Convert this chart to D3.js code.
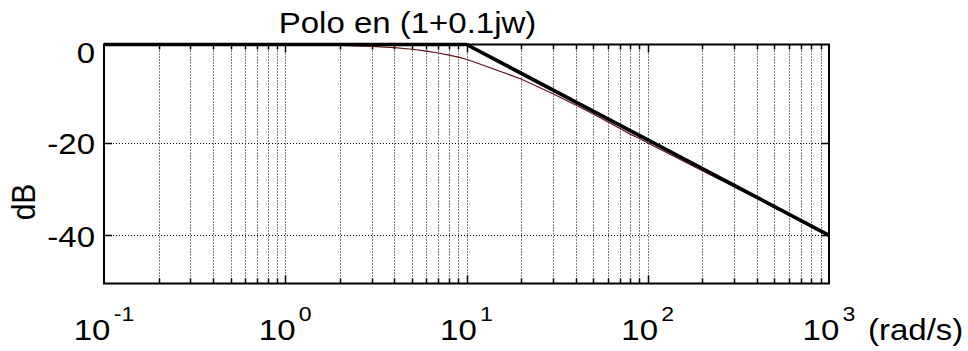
<!DOCTYPE html>
<html>
<head>
<meta charset="utf-8">
<script src="https://cdn.jsdelivr.net/npm/d3@7"></script>
<style>
  html, body { margin: 0; padding: 0; background: #fff; }
  svg { display: block; }
  text { font-family: "Liberation Sans", Arial, sans-serif; fill: #000; }
</style>
</head>
<body>
<svg id="chart" width="968" height="351"></svg>
<script>
// ---- data ----
const titleText = "Polo en (1+0.1jw)";
const yLabel = "dB";
const xUnit = "(rad/s)";
const xTickExps = [-1, 0, 1, 2, 3];
const yTicks = [0, -20, -40];
const yDomain = [-50, 0];

// asymptotic (straight-line) approximation
const asymW = [0.1, 10, 1000];
const asymDb = [0, 0, -40];

// real magnitude curve, sampled
const realW = [0.1,0.2,0.3,0.4,0.5,0.6,0.7,0.8,0.9,
               1,2,3,4,5,6,7,8,9,
               10,20,30,40,50,60,70,80,90,
               100,200,300,400,500,600,700,800,900,1000];
const realDb = [0,0,0,0,0,0,0,0,0,
                -0.04,-0.17,-0.37,-0.64,-0.97,-1.34,-1.73,-2.15,-2.55,
                -3.0,-7.0,-10.0,-12.3,-14.1,-15.7,-17.0,-18.2,-19.1,
                -20.0,-26.0,-29.5,-32.0,-34.0,-35.6,-36.9,-38.1,-39.1,-40.0];

// ---- layout ----
const L = 104, R = 829, T = 44.5, B = 283.5;
const svg = d3.select("#chart");
const sx = 1.1; // horizontal glyph stretch of the reference

const x = d3.scaleLog().domain([0.1, 1000]).range([L, R]);
const y = d3.scaleLinear().domain([-50, -40, -20, 0]).range([B, 235.3, 143, T]);

// grid
const minor = [];
for (let e = -1; e < 3; e++) for (let k = 2; k <= 9; k++) minor.push(k * Math.pow(10, e));
const majorInner = [1, 10, 100];
const gridV = minor.concat(majorInner);

const grid = svg.append("g").attr("stroke", "#000").attr("stroke-width", 1)
  .attr("stroke-dasharray", "1,2").attr("fill", "none");
grid.selectAll("line.v").data(gridV).join("line")
  .attr("x1", d => Math.round(x(d)) + 0.5).attr("x2", d => Math.round(x(d)) + 0.5)
  .attr("y1", T).attr("y2", B);
grid.selectAll("line.h").data([-20, -40]).join("line")
  .attr("x1", L).attr("x2", R)
  .attr("y1", d => Math.round(y(d)) + 0.5).attr("y2", d => Math.round(y(d)) + 0.5);

// ticks (inward)
const ticks = svg.append("g").attr("stroke", "#000").attr("stroke-width", 1.5);
ticks.selectAll("line.bt").data(gridV).join("line")
  .attr("x1", d => Math.round(x(d)) + 0.5).attr("x2", d => Math.round(x(d)) + 0.5)
  .attr("y1", B).attr("y2", d => B - (majorInner.includes(d) ? 8 : 5));
ticks.selectAll("line.tt").data(gridV).join("line")
  .attr("x1", d => Math.round(x(d)) + 0.5).attr("x2", d => Math.round(x(d)) + 0.5)
  .attr("y1", T).attr("y2", d => T + (majorInner.includes(d) ? 8 : 5));
ticks.selectAll("line.lt").data([-20, -40]).join("line")
  .attr("x1", L).attr("x2", L + 8)
  .attr("y1", d => Math.round(y(d)) + 0.5).attr("y2", d => Math.round(y(d)) + 0.5);
ticks.selectAll("line.rt").data([-20, -40]).join("line")
  .attr("x1", R).attr("x2", R - 8)
  .attr("y1", d => Math.round(y(d)) + 0.5).attr("y2", d => Math.round(y(d)) + 0.5);

// frame
svg.append("rect").attr("x", L).attr("y", T).attr("width", R - L).attr("height", B - T)
  .attr("fill", "none").attr("stroke", "#000").attr("stroke-width", 2);

// lines
const line = d3.line().x(d => x(d[0])).y(d => y(d[1]));
svg.append("path").datum(realW.map((w, i) => [w, realDb[i]]))
  .attr("d", line).attr("fill", "none").attr("stroke", "#5c1414").attr("stroke-width", 1.2);
svg.append("path").datum(asymW.map((w, i) => [w, asymDb[i]]))
  .attr("d", line).attr("fill", "none").attr("stroke", "#000").attr("stroke-width", 3.6)
  .attr("stroke-linejoin", "miter");

// x tick labels
const xl = svg.append("g");
xTickExps.forEach(e => {
  const cx = x(Math.pow(10, e));
  const t = xl.append("text")
    .attr("transform", `translate(${cx},340) scale(${sx},1)`)
    .attr("text-anchor", "middle").attr("font-size", 30);
  t.append("tspan").text("10");
  t.append("tspan").attr("font-size", 21).attr("dy", -19).attr("dx", 3).text(String(e));
});
svg.append("text").attr("transform", `translate(868,340) scale(${sx},1)`)
  .attr("font-size", 30).text(xUnit);

// y tick labels
const yLabelPos = {"0": 62.5, "-20": 153.5, "-40": 246.5};
yTicks.forEach(v => {
  svg.append("text").attr("transform", `translate(95,${yLabelPos[String(v)]}) scale(${sx},1)`)
    .attr("text-anchor", "end").attr("font-size", 30).text(String(v));
});

// y axis title
svg.append("text").attr("transform", `translate(35,202) rotate(-90) scale(1,${sx})`)
  .attr("text-anchor", "middle").attr("font-size", 30).text(yLabel);

// title
svg.append("text").attr("transform", `translate(407.5,33) scale(${sx},1)`)
  .attr("text-anchor", "middle").attr("font-size", 30).text(titleText);
</script>
</body>
</html>
